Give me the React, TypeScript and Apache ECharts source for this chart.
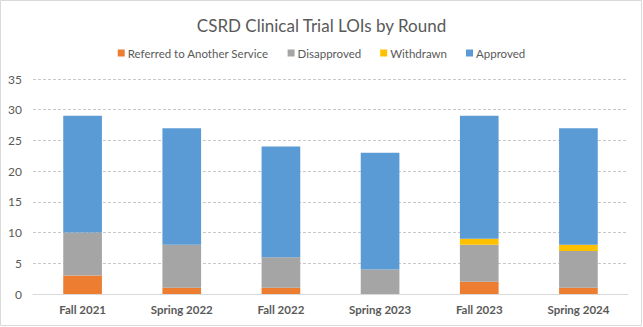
import React, { useEffect, useRef } from "react";
import * as echarts from "echarts";

const categories = ["Fall 2021", "Spring 2022", "Fall 2022", "Spring 2023", "Fall 2023", "Spring 2024"];
const referred = [3, 1, 1, 0, 2, 1];
const disapproved = [7, 7, 5, 4, 6, 6];
const withdrawn = [0, 0, 0, 0, 1, 1];
const approved = [19, 19, 18, 19, 20, 19];
const yTicks = { min: 0, max: 35, interval: 5 };

const FONT = "Lato, 'Open Sans', sans-serif";
const TXT = "#595959";

export default function App() {
  const ref = useRef<HTMLDivElement>(null);
  useEffect(() => {
    document.body.style.margin = "0";
    const chart = echarts.init(ref.current!, null, { renderer: "svg" });
    const mk = (name: string, data: number[], color: string) => ({
      name,
      type: "bar",
      stack: "total",
      data,
      barWidth: "39%",
      itemStyle: { color },
      emphasis: { disabled: true },
    });
    chart.setOption({
      animation: false,
      backgroundColor: "#ffffff",
      textStyle: { fontFamily: FONT },
      title: {
        text: "CSRD Clinical Trial LOIs by Round",
        left: "center",
        top: 12,
        textStyle: { fontSize: 17, fontWeight: "normal", color: TXT, fontFamily: FONT },
      },
      legend: {
        top: 42,
        left: "center",
        itemWidth: 7,
        itemHeight: 7,
        itemGap: 19,
        icon: "rect",
        textStyle: { fontSize: 11.5, color: TXT, fontFamily: FONT, padding: [0, 0, 0, -2] },
        data: ["Referred to Another Service", "Disapproved", "Withdrawn", "Approved"],
      },
      grid: { left: 33, right: 15, top: 79, bottom: 33, containLabel: false },
      xAxis: {
        type: "category",
        data: categories,
        axisLine: { lineStyle: { color: "#d9d9d9" } },
        axisTick: { show: false },
        axisLabel: { color: TXT, fontSize: 11.5, fontWeight: "bold", fontFamily: FONT, margin: 9 },
      },
      yAxis: {
        type: "value",
        min: yTicks.min,
        max: yTicks.max,
        interval: yTicks.interval,
        axisLine: { show: false },
        axisTick: { show: false },
        axisLabel: { color: TXT, fontSize: 12, fontFamily: FONT, margin: 11 },
        splitLine: { lineStyle: { color: "#c8c8c8", type: [3, 2] } },
      },
      series: [
        mk("Referred to Another Service", referred, "#ed7d31"),
        mk("Disapproved", disapproved, "#a5a5a5"),
        mk("Withdrawn", withdrawn, "#ffc000"),
        mk("Approved", approved, "#5b9bd5"),
      ],
      graphic: [
        {
          type: "rect",
          shape: { x: 0.5, y: 0.5, width: 641, height: 325 },
          style: { fill: "none", stroke: "#d9d9d9", lineWidth: 1 },
          silent: true,
        },
      ],
    });
    return () => chart.dispose();
  }, []);
  return <div ref={ref} style={{ width: 643, height: 327 }} />;
}
